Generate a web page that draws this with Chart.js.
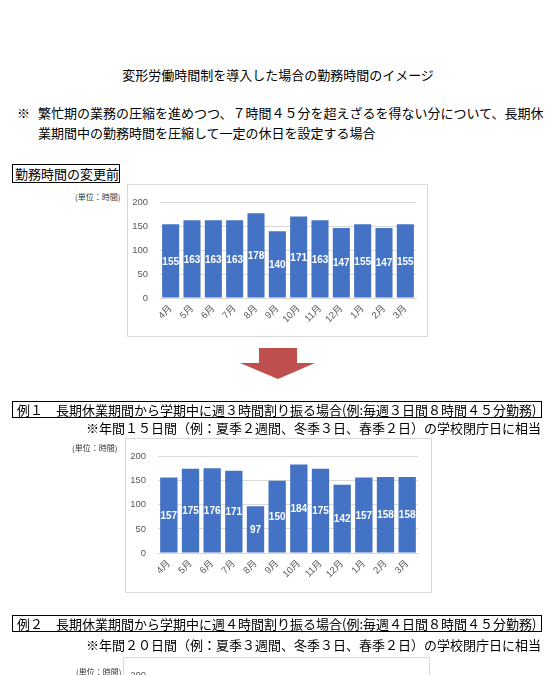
<!DOCTYPE html>
<html lang="ja">
<head>
<meta charset="utf-8">
<script src="https://cdn.jsdelivr.net/npm/chart.js@4/dist/chart.umd.min.js"></script>
<style>
  html, body { margin: 0; padding: 0; background: #fff; }
  body { width: 556px; height: 675px; position: relative; overflow: hidden;
         font-family: "Noto Sans CJK JP", sans-serif; color: #000; }
  .abs { position: absolute; white-space: nowrap; }
  .t13 { font-size: 13px; line-height: 16px; }
  .box { border: 1px solid #000; box-sizing: border-box; }
  .frame { position: absolute; border: 1px solid #d9d9d9; box-sizing: content-box; background: #fff; }
  .frame canvas { display: block; }
  .unit { position: absolute; font-size: 8px; line-height: 10px; color: #333; white-space: nowrap; }
</style>
</head>
<body>

<div class="abs t13" style="left:0; width:556px; text-align:center; top:67px;">変形労働時間制を導入した場合の勤務時間のイメージ</div>
<div class="abs t13" style="left:17px; top:105px;">※</div>
<div class="abs t13" style="left:38px; top:105px;">繁忙期の業務の圧縮を進めつつ、７時間４５分を超えざるを得ない分について、長期休</div>
<div class="abs t13" style="left:38px; top:125px;">業期間中の勤務時間を圧縮して一定の休日を設定する場合</div>

<div class="abs t13 box" style="left:12px; top:164px; width:108px; height:19px; line-height:17px; padding-left:2px;">勤務時間の変更前</div>

<div class="unit" style="left:75px; top:192px;">(単位：時間)</div>
<div class="frame" style="left:127px; top:184px; width:299px; height:151px;"><canvas id="c1" width="299" height="151"></canvas></div>

<svg class="abs" style="left:0; top:0;" width="556" height="675" viewBox="0 0 556 675">
  <polygon points="259,348 297,348 297,363 315,363 278,379 240,363 259,363" fill="#c0504d"/>
</svg>

<div class="abs t13 box" style="left:12px; top:401px; width:530px; height:17px; line-height:15px; padding-left:4px;">例１　長期休業期間から学期中に週３時間割り振る場合(例:毎週３日間８時間４５分勤務)</div>
<div class="abs t13" style="right:15px; top:420px;">※年間１５日間（例：夏季２週間、冬季３日、春季２日）の学校閉庁日に相当</div>

<div class="unit" style="left:72px; top:443px;">(単位：時間)</div>
<div class="frame" style="left:125px; top:438px; width:305px; height:153px;"><canvas id="c2" width="305" height="153"></canvas></div>

<div class="abs t13 box" style="left:12px; top:615px; width:530px; height:17px; line-height:15px; padding-left:4px;">例２　長期休業期間から学期中に週４時間割り振る場合(例:毎週４日間８時間４５分勤務)</div>
<div class="abs t13" style="right:15px; top:637px;">※年間２０日間（例：夏季３週間、冬季３日、春季２日）の学校閉庁日に相当</div>

<div class="unit" style="left:76px; top:667px;">(単位：時間)</div>
<div class="frame" style="left:123px; top:657px; width:305px; height:153px;"><canvas id="c3" width="305" height="153"></canvas></div>

<script>
// ---- data ----
const months = ['4月','5月','6月','7月','8月','9月','10月','11月','12月','1月','2月','3月'];
const hoursBefore = [155,163,163,163,178,140,171,163,147,155,147,155];
const hoursExample1 = [157,175,176,171,97,150,184,175,142,157,158,158];
const hoursExample2 = []; // values not visible in the reference (chart is cut off)
const yTicks = [0,50,100,150,200];

const BAR = '#4472c4';
const GRID = '#d9d9d9';
const TICK = '#595959';
const FONT = '"Liberation Sans", "Noto Sans CJK JP", sans-serif';

const barLabels = {
  id: 'barLabels',
  afterDatasetsDraw(chart) {
    const ctx = chart.ctx;
    ctx.save();
    ctx.fillStyle = '#fff';
    ctx.font = 'bold 10px ' + FONT;
    ctx.textAlign = 'center';
    ctx.textBaseline = 'middle';
    chart.data.datasets.forEach((ds, i) => {
      chart.getDatasetMeta(i).data.forEach((el, j) => {
        const v = ds.data[j];
        if (v == null) return;
        ctx.fillText(String(v), el.x, (el.y + el.base) / 2 + 1);
      });
    });
    ctx.restore();
  }
};

function makeChart(id, data, area) {
  const canvas = document.getElementById(id);
  return new Chart(canvas, {
    type: 'bar',
    data: { labels: months, datasets: [{ data: data, backgroundColor: BAR, borderWidth: 0,
            barPercentage: 0.8, categoryPercentage: 1.0 }] },
    options: {
      responsive: false, animation: false, devicePixelRatio: 1,
      layout: { padding: { left: 0, top: area.top, right: canvas.width - area.right, bottom: 0 } },
      plugins: { legend: { display: false }, tooltip: { enabled: false } },
      scales: {
        x: {
          grid: { display: false, drawTicks: false },
          border: { display: true, color: GRID, width: 1 },
          ticks: { color: TICK, font: { size: 9.5, family: FONT }, minRotation: 45, maxRotation: 45, padding: 5, autoSkip: false },
          afterFit(s) { s.height = canvas.height - area.bottom; }
        },
        y: {
          min: 0, max: 200,
          afterBuildTicks(s) { s.ticks = yTicks.map(v => ({ value: v })); },
          grid: { color: GRID, drawTicks: false, lineWidth: 1 },
          border: { display: false },
          ticks: { color: TICK, font: { size: 9.5, family: FONT }, padding: 12 },
          afterFit(s) { s.width = area.left; }
        }
      }
    },
    plugins: [barLabels]
  });
}

makeChart('c1', hoursBefore, { left: 32, right: 288, top: 11, bottom: 113 });
makeChart('c2', hoursExample1, { left: 32, right: 292, top: 10, bottom: 114 });
makeChart('c3', hoursExample2, { left: 34, right: 294, top: 13, bottom: 115 });
</script>
</body>
</html>
